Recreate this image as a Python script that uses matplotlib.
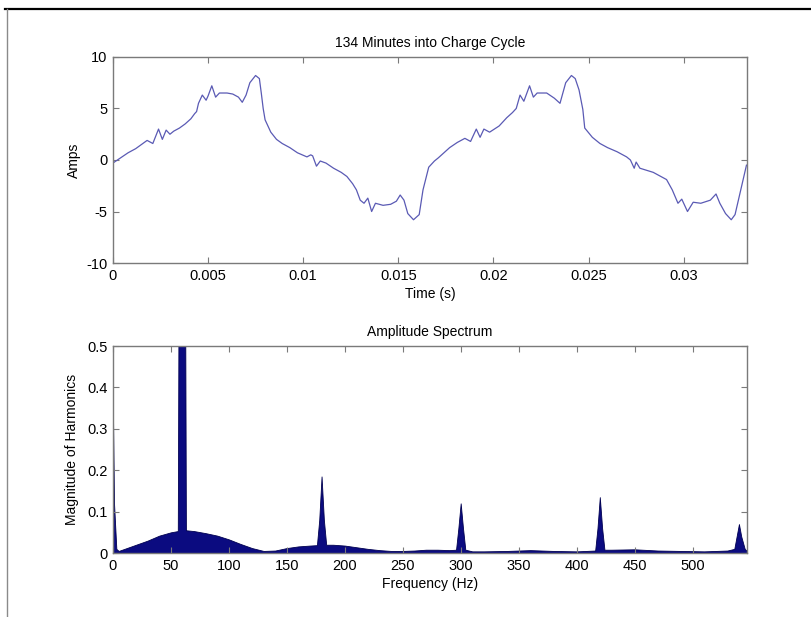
import matplotlib
matplotlib.use("Agg")
import matplotlib.pyplot as plt
from matplotlib.lines import Line2D

plt.rcParams['font.family'] = ['Liberation Sans', 'DejaVu Sans']
plt.rcParams['font.size'] = 10
plt.rcParams['axes.unicode_minus'] = False

# ---------- current waveform (two 60 Hz cycles) ----------
time_s = [0.0000, 0.0004, 0.0008, 0.0012, 0.0018, 0.0021, 0.0024, 0.0026, 0.0028, 0.0030,
          0.0032, 0.0035, 0.0038, 0.0041, 0.0043, 0.0044, 0.0045, 0.0047, 0.0049, 0.0050,
          0.0052, 0.0054, 0.0056, 0.0060, 0.0063, 0.0066, 0.0068, 0.0070, 0.0072, 0.0075,
          0.0077, 0.0078, 0.0079, 0.0080, 0.0083, 0.0086, 0.0089, 0.0093, 0.0097, 0.0102,
          0.0104, 0.0105, 0.0107, 0.0109, 0.0112, 0.0116, 0.0120, 0.0123, 0.0126, 0.0128,
          0.0130, 0.0132, 0.0134, 0.0136, 0.0138, 0.0140, 0.0142, 0.0146, 0.0149, 0.0151,
          0.0153, 0.0155, 0.0158, 0.0161, 0.0163, 0.0166, 0.0169, 0.0171, 0.0174, 0.0177,
          0.0181, 0.0185, 0.0188, 0.0191, 0.0193, 0.0195, 0.0198, 0.0203, 0.0207, 0.0210,
          0.0212, 0.0214, 0.0216, 0.0219, 0.0221, 0.0223, 0.0228, 0.0232, 0.0235, 0.0238,
          0.0241, 0.0243, 0.0245, 0.0247, 0.0248, 0.0252, 0.0256, 0.0260, 0.0265, 0.0270,
          0.0272, 0.0274, 0.0275, 0.0277, 0.0284, 0.0291, 0.0294, 0.0297, 0.0299, 0.0302,
          0.0305, 0.0309, 0.0314, 0.0317, 0.0319, 0.0322, 0.0325, 0.0327, 0.0330, 0.0333]
amps = [-0.3, 0.2, 0.7, 1.1, 1.9, 1.6, 3.0, 2.0, 2.9, 2.5,
        2.8, 3.1, 3.5, 4.0, 4.5, 4.7, 5.5, 6.3, 5.8, 6.2,
        7.2, 6.1, 6.5, 6.5, 6.4, 6.1, 5.6, 6.3, 7.5, 8.2,
        7.9, 6.5, 5.0, 3.9, 2.7, 2.0, 1.6, 1.2, 0.7, 0.3,
        0.5, 0.4, -0.6, -0.1, -0.3, -0.8, -1.2, -1.6, -2.3, -2.9,
        -3.9, -4.2, -3.7, -5.0, -4.2, -4.3, -4.4, -4.3, -4.0, -3.4,
        -3.9, -5.2, -5.8, -5.3, -2.9, -0.7, -0.1, 0.2, 0.7, 1.2,
        1.7, 2.1, 1.8, 3.0, 2.2, 3.0, 2.7, 3.3, 4.1, 4.6,
        5.0, 6.3, 5.7, 7.2, 6.1, 6.5, 6.5, 6.0, 5.5, 7.5,
        8.2, 7.9, 6.8, 4.9, 3.1, 2.2, 1.6, 1.2, 0.8, 0.3,
        0.0, -0.8, -0.2, -0.8, -1.2, -1.9, -2.9, -4.2, -3.8, -5.0,
        -4.1, -4.2, -3.9, -3.3, -4.2, -5.2, -5.8, -5.3, -2.9, -0.5]

# ---------- amplitude spectrum ----------
freq_hz = [0, 1, 3, 5, 10, 20, 30, 40, 50, 56,
           57, 62, 63, 70, 80, 90, 100, 110, 120, 130,
           140, 150, 160, 170, 176, 178, 180, 182, 184, 190,
           200, 210, 220, 230, 240, 250, 260, 270, 280, 290,
           296, 298, 300, 302, 304, 310, 320, 340, 360, 380,
           400, 416, 418, 420, 422, 424, 430, 450, 470, 490,
           510, 530, 536, 538, 540, 542, 545, 547]
magnitude = [0.36, 0.12, 0.01, 0.005, 0.01, 0.02, 0.03, 0.042, 0.05, 0.053,
             0.9, 0.9, 0.055, 0.053, 0.048, 0.042, 0.033, 0.022, 0.012, 0.005,
             0.006, 0.012, 0.016, 0.018, 0.019, 0.08, 0.185, 0.08, 0.02, 0.02,
             0.018, 0.014, 0.01, 0.007, 0.005, 0.005, 0.006, 0.008, 0.008, 0.007,
             0.008, 0.06, 0.12, 0.06, 0.008, 0.004, 0.004, 0.005, 0.007, 0.005,
             0.004, 0.006, 0.06, 0.135, 0.06, 0.008, 0.008, 0.009, 0.006, 0.005,
             0.004, 0.006, 0.01, 0.04, 0.07, 0.04, 0.01, 0.005]

time_ticks = [0, 0.005, 0.01, 0.015, 0.02, 0.025, 0.03]
time_labels = ['0', '0.005', '0.01', '0.015', '0.02', '0.025', '0.03']
amp_ticks = [-10, -5, 0, 5, 10]
freq_ticks = [0, 50, 100, 150, 200, 250, 300, 350, 400, 450, 500]
mag_ticks = [0, 0.1, 0.2, 0.3, 0.4, 0.5]
mag_labels = ['0', '0.1', '0.2', '0.3', '0.4', '0.5']


def matlab_style(ax):
    for s in ax.spines.values():
        s.set_color('#7a7a7a')
        s.set_linewidth(1.0)
    ax.tick_params(direction='in', length=4, top=True, right=True,
                   color='#7a7a7a', labelsize=10.5, pad=4)


# ---------- figure ----------
fig = plt.figure(figsize=(8.12, 6.17), dpi=100)

ax1 = fig.add_axes([0.139, 0.5737, 0.781, 0.334])
ax1.plot(time_s, amps, color='#5a5ab4', lw=0.9)
ax1.set_xlim(0, 0.03333)
ax1.set_ylim(-10, 10)
ax1.set_xticks(time_ticks)
ax1.set_xticklabels(time_labels)
ax1.set_yticks(amp_ticks)
ax1.set_title('134 Minutes into Charge Cycle', fontsize=10, pad=7)
ax1.set_xlabel('Time (s)', labelpad=3)
ax1.set_ylabel('Amps', labelpad=4)
matlab_style(ax1)

ax2 = fig.add_axes([0.139, 0.1037, 0.781, 0.3355])
ax2.fill_between(freq_hz, magnitude, 0, color='#0b0b80', edgecolor='#000050', lw=0.6)
ax2.set_xlim(0, 547)
ax2.set_ylim(0, 0.5)
ax2.set_xticks(freq_ticks)
ax2.set_yticks(mag_ticks)
ax2.set_yticklabels(mag_labels)
ax2.set_title('Amplitude Spectrum', fontsize=10, pad=7)
ax2.set_xlabel('Frequency (Hz)', labelpad=3)
ax2.set_ylabel('Magnitude of Harmonics', labelpad=6)
matlab_style(ax2)

# page border from the scanned document
fig.add_artist(Line2D([5 / 812, 1.0], [1 - 9 / 617, 1 - 9 / 617],
                      transform=fig.transFigure, color='black', lw=1.6))
fig.add_artist(Line2D([7 / 812, 7 / 812], [0.0, 1 - 9 / 617],
                      transform=fig.transFigure, color='#8a8a8a', lw=1.0))

fig.savefig('out.png', dpi=100)
